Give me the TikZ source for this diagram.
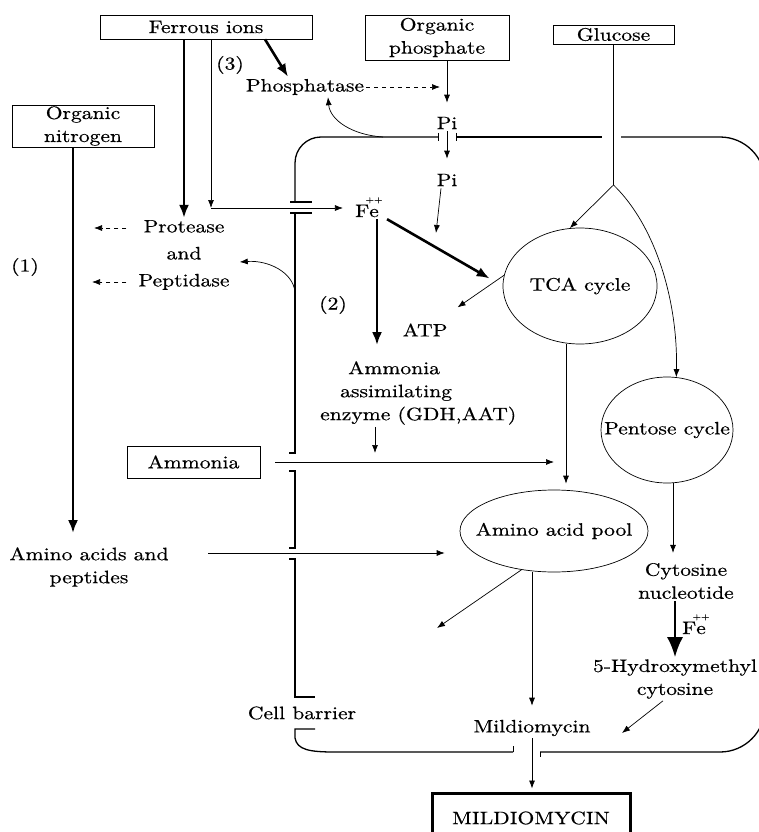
\documentclass[tikz,border=0pt]{standalone}
\usepackage{fontspec}
\setmainfont{lmroman10-regular.otf}[FakeStretch=1.2,FakeBold=0.5]
\usetikzlibrary{arrows.meta,positioning,shapes.geometric}

\newcommand\feion{F\ooalign{e\cr\hidewidth\raisebox{.8em}{\fontsize{9}{9}\selectfont ++}\hidewidth\cr}}

\begin{document}
\begin{tikzpicture}[
  x=1pt,y=-1pt,font=\fontsize{18}{23}\selectfont,
  box/.style={draw,line width=.7pt,align=center,inner sep=1pt},
  txt/.style={align=center,inner sep=2pt},
  cyc/.style={draw,ellipse,line width=.7pt,inner sep=-20pt},
  flow/.style={-{Latex[length=8pt,width=6pt]},line width=.7pt},
  hint/.style={-{Latex[length=8pt,width=6pt]},line width=.7pt,dash pattern=on 4pt off 4pt},
  heavy/.style={-{Latex[length=13pt,width=10pt]},line width=2.6pt},
  bigarrow/.style={-{Latex[length=20pt,width=16pt]},line width=2.4pt},
  wall/.style={line width=1.3pt}
]
\useasboundingbox (0,0) rectangle (758,832);

% 1. Outside supplies.
\node[box,minimum width=212pt,minimum height=24pt] (ferrous) at (206,27) {Ferrous ions};
\node[box,minimum width=142pt,minimum height=42pt] (orgN) at (83,126) {Organic\\nitrogen};
\node[box,minimum width=144pt,minimum height=45pt] (orgP) at (437,37.5) {Organic\\phosphate};
\node[box,minimum width=121pt,minimum height=19pt] (glucose) at (613.5,34.5) {Glucose};
\node[box,minimum width=133pt,minimum height=32pt] (ammoniabox) at (193.5,462) {Ammonia};
\node[txt] (phos) at (305,87) {Phosphatase};
\node[txt] (lbl3) at (230,65) {(3)};
\node[txt] (lbl1) at (25,267) {(1)};
\node[txt] (lbl2) at (333,305) {(2)};
\node[txt,font=\fontsize{18}{27}\selectfont] (protease) at (184,255) {Protease\\and\\Peptidase};
\node[txt] (aapep) at (89,567) {Amino acids and\\peptides};

% 2. Cell barrier.
\draw[wall,rounded corners=26pt] (295,202) -- (295,137) -- (438,137);
\draw[wall] (456,137) -- (602,137);
\draw[wall,rounded corners=45pt] (621,137) -- (765,137) -- (765,752) -- (540,752);
\draw[wall] (513,752) -- (335,752) .. controls (310,752) and (297,750) .. (295,738) -- (295,729) -- (315,729);
\draw[wall] (290,202) -- (312,202);
\draw[wall] (290,213) -- (312,213);
\draw[wall] (295,213) -- (295,453) -- (289,453);
\draw[wall] (289,471) -- (295,471) -- (295,548) -- (289,548);
\draw[wall] (289,559) -- (295,559) -- (295,697) -- (315,697);
\draw[line width=.7pt] (438,133) -- (438,141) (456,133) -- (456,141);
\draw[line width=.7pt] (513,746) -- (513,752) (540,752) -- (540,757);
\node[txt] (barrier) at (302,713) {Cell barrier};

% 3. Inside the cell.
\node[txt] (pi1) at (447,123) {Pi};
\node[txt] (pi2) at (447,180) {Pi};
\node[txt,anchor=base] (fe) at (367,217) {\feion};
\node[txt] (atp) at (425,330) {ATP};
\node[txt,align=left,anchor=west] (enzyme) at (318,393)
  {\hspace*{28pt}Ammonia\\\hspace*{20pt}assimilating\\enzyme (GDH,AAT)};
\node[cyc,minimum width=154pt,minimum height=116pt] (tca) at (580,286) {TCA cycle};
\node[cyc,minimum width=132pt,minimum height=106pt] (pentose) at (667,430) {Pentose cycle};
\node[cyc,minimum width=188pt,minimum height=82pt] (pool) at (554,531) {Amino acid pool};
\node[txt] (cytnuc) at (686,581) {Cytosine\\nucleotide};
\node[txt,anchor=base] (fe2) at (694,634) {\feion};
\node[txt] (hmc) at (675,679) {5-Hydroxymethyl\\cytosine};
\node[txt] (mild) at (532,728) {Mildiomycin};
\node[draw,line width=3pt,minimum width=198pt,minimum height=50pt] (mildbox) at (531,818) {MILDIOMYCIN};

% 4. Connectors.
\coordinate (feturn) at (211,208);
\coordinate (nleft1) at (94,228);
\coordinate (nleft2) at (92,282);
\coordinate (wallP) at (383,137);
\coordinate (wallQ) at (295,292);
\coordinate (piend) at (436,233);
\coordinate (enzend) at (375,453);
\coordinate (gsplit) at (613.5,185);
\coordinate (aafrom) at (208,553);
\coordinate (poolend) at (437,628);
\coordinate (hmcend) at (622,733);

\draw[heavy] (ferrous.south -| protease.north) -- (protease.north);
\draw[heavy] ([xshift=59pt]ferrous.south) -- ([xshift=-17pt]phos.north);
\draw[flow] ([xshift=5pt]ferrous.south) -- (feturn);
\draw[flow,shorten >=10pt] (feturn) -- (fe.west |- feturn);
\draw[heavy,shorten >=12pt] ([xshift=-10pt]orgN.south) -- ([xshift=-16pt]aapep.north);
\draw[hint,shorten <=10pt] (protease.west |- nleft1) -- (nleft1);
\draw[hint,shorten <=10pt] (protease.west |- nleft2) -- (nleft2);
\draw[hint,shorten >=7pt] (phos.east) -- (phos.east -| pi1);
\draw[flow,shorten >=12pt] (orgP.south -| pi1) -- (pi1.north);
\draw[flow,shorten >=13pt] (pi1.south) -- (pi2.north);
\draw[flow] ([xshift=-6pt]pi2.south) -- (piend);
\draw[flow] (wallP) .. controls (352,135) and (330,120) .. ([xshift=23pt]phos.south);
\draw[flow] (wallQ) .. controls (293,272) and (268,260) .. ([xshift=8pt,yshift=-7pt]protease.east);
\draw[heavy,shorten >=15pt] ([xshift=6pt]fe.south east) -- (tca.west);
\draw[flow] (tca.172) -- ([xshift=8pt,yshift=14pt]atp.north east);
\draw[heavy,shorten >=14pt] ([xshift=10pt]fe.south) -- ([xshift=10pt]fe.south |- enzyme.north);
\draw[flow] (enzyme.south -| enzend) -- (enzend);
\draw[flow] (glucose.south) -- (gsplit) -- (tca.100);
\draw[flow] (gsplit) .. controls (655,225) and (678,300) .. (pentose.80);
\draw[flow,shorten >=6pt] ([xshift=-14pt]tca.south) -- ([xshift=-14pt]tca.south |- pool.north);
\draw[flow,shorten <=15pt] (ammoniabox.east) -- (ammoniabox.east -| pool.north);
\draw[flow,shorten >=15pt] (aafrom) -- (aafrom -| pool.west);
\draw[flow] (pool.230) -- (poolend);
\draw[flow,shorten >=12pt] (pool.south -| mild.north) -- (mild.north);
\draw[flow,shorten >=3pt] (mild.south) -- (mild.south |- mildbox.north);
\draw[flow,shorten >=8pt] ([xshift=6pt]pentose.south) -- ([xshift=6pt]pentose.south |- cytnuc.north);
\draw[bigarrow] ([xshift=-11pt]cytnuc.south) -- ([xshift=-11pt]cytnuc.south |- hmc.north);
\draw[flow] ([xshift=-12pt]hmc.south) -- (hmcend);

\end{tikzpicture}
\end{document}
